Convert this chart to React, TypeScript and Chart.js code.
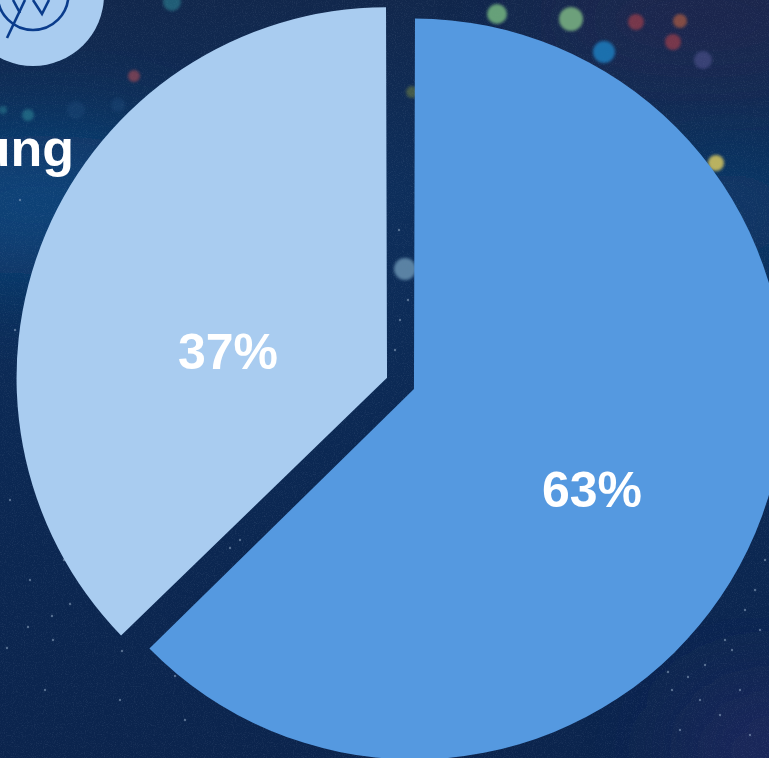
import React, { useEffect, useRef } from "react";
import { Chart, registerables } from "chart.js";

Chart.register(...registerables);

const categories = ["Segment A", "Segment B"];
const seriesValues = [62.7, 37.3];
const sliceColors = ["#5599E0", "#A9CCF0"];

// label anchors relative to each slice's apex
const labelShift = [
  [178, 101],
  [-159, -25],
];

const bokeh: [number, number, number, string, number][] = [
  [497, 14, 10, "#6fae7e", 0.9],
  [571, 19, 12, "#72a77e", 0.95],
  [604, 52, 11, "#1f78b8", 0.9],
  [636, 22, 8, "#a8404a", 0.65],
  [680, 21, 7, "#b9603f", 0.65],
  [673, 42, 8, "#a8404a", 0.65],
  [703, 60, 9, "#5a5a9a", 0.5],
  [716, 163, 8, "#d8c860", 0.85],
  [405, 269, 11, "#5f87a8", 0.95],
  [134, 76, 6, "#9a4a55", 0.7],
  [28, 115, 6, "#2f8a9a", 0.55],
  [3, 110, 4, "#2f8a9a", 0.45],
  [76, 110, 9, "#24507f", 0.35],
  [118, 105, 7, "#24507f", 0.35],
  [172, 2, 9, "#2f8a9a", 0.55],
  [412, 92, 6, "#7a8a40", 0.5],
];

const stars: [number, number][] = [
  [7, 648], [70, 604], [52, 616], [28, 627], [53, 640], [64, 560], [30, 580], [122, 651],
  [175, 676], [185, 720], [120, 700], [45, 690], [20, 200], [40, 260], [15, 330], [30, 420],
  [10, 500], [60, 530], [700, 700], [740, 690], [750, 735], [680, 730], [400, 320], [395, 350],
  [408, 300], [399, 230], [240, 540], [230, 548], [750, 540], [765, 560], [705, 665], [668, 672],
  [688, 677], [732, 650], [760, 630], [745, 610], [725, 640], [755, 590], [672, 690], [720, 715],
];

const labelsPlugin = {
  id: "sliceLabels",
  afterDatasetsDraw(chart: Chart) {
    const { ctx } = chart;
    const arcs = chart.getDatasetMeta(0).data as any[];
    ctx.save();
    ctx.font = 'bold 50px "Liberation Sans", Arial, sans-serif';
    ctx.fillStyle = "#ffffff";
    ctx.textAlign = "center";
    ctx.textBaseline = "middle";
    arcs.forEach((arc, i) => {
      const mid = (arc.startAngle + arc.endAngle) / 2;
      const off = arc.options.offset / 4;
      ctx.fillText(
        `${Math.round(seriesValues[i])}%`,
        arc.x + Math.cos(mid) * off + labelShift[i][0],
        arc.y + Math.sin(mid) * off + labelShift[i][1] + 3
      );
    });
    ctx.restore();
  },
};

export default function App() {
  const ref = useRef<HTMLCanvasElement>(null);
  useEffect(() => {
    const chart = new Chart(ref.current!, {
      type: "pie",
      data: {
        labels: categories,
        datasets: [
          {
            data: seriesValues,
            backgroundColor: sliceColors,
            borderWidth: 0,
            offset: [25.84, 90.96],
          },
        ],
      },
      options: {
        responsive: false,
        animation: false,
        radius: 364.04,
        layout: { padding: 0 },
        plugins: { legend: { display: false }, tooltip: { enabled: false } },
      } as any,
      plugins: [labelsPlugin],
    });
    return () => chart.destroy();
  }, []);

  return (
    <div
      style={{
        position: "fixed",
        left: 0,
        top: 0,
        width: 769,
        height: 758,
        overflow: "hidden",
        background: "#0C2852",
      }}
    >
      <svg width={769} height={758} style={{ position: "absolute", left: 0, top: 0 }}>
        <defs>
          <filter id="b1" x="-50%" y="-50%" width="200%" height="200%">
            <feGaussianBlur stdDeviation="1.4" />
          </filter>
          <filter id="b0" x="-100%" y="-100%" width="300%" height="300%">
            <feGaussianBlur stdDeviation="0.7" />
          </filter>
          <filter id="b2" x="-60%" y="-60%" width="220%" height="220%">
            <feGaussianBlur stdDeviation="50" />
          </filter>
          <filter id="grain" x="0" y="0" width="100%" height="100%">
            <feTurbulence type="fractalNoise" baseFrequency="0.9" numOctaves="2" seed="4" />
            <feColorMatrix
              type="matrix"
              values="0 0 0 0 0.62  0 0 0 0 0.72  0 0 0 0 0.85  0 0 0 1.6 -0.78"
            />
          </filter>
          <linearGradient id="bg" x1="0" y1="0" x2="0" y2="1">
            <stop offset="0" stopColor="#11274C" />
            <stop offset="0.25" stopColor="#0D2E5B" />
            <stop offset="0.6" stopColor="#0B2853" />
            <stop offset="1" stopColor="#0B244D" />
          </linearGradient>
        </defs>
        <rect width={769} height={758} fill="url(#bg)" />
        <ellipse cx={40} cy={205} rx={170} ry={70} fill="#0D4C84" opacity={0.8} filter="url(#b2)" />
        <ellipse cx={730} cy={215} rx={70} ry={50} fill="#0D4478" opacity={0.7} filter="url(#b2)" />
        <ellipse cx={700} cy={20} rx={170} ry={50} fill="#2A2850" opacity={0.6} filter="url(#b2)" />
        <ellipse cx={770} cy={750} rx={90} ry={60} fill="#2A2A68" opacity={0.7} filter="url(#b2)" />
        <rect width={769} height={758} filter="url(#grain)" opacity={0.15} />
        {bokeh.map(([x, y, r, c, o], i) => (
          <circle key={i} cx={x} cy={y} r={r} fill={c} opacity={o} filter="url(#b1)" />
        ))}
        {stars.map(([x, y], i) => (
          <circle key={i} cx={x} cy={y} r={1.2} fill="#9FB6CF" opacity={0.5} filter="url(#b0)" />
        ))}
        <circle cx={33} cy={-5} r={71} fill="#A9CCF0" />
        <g fill="none" stroke="#0A3C8C" strokeWidth={2.6}>
          <circle cx={33} cy={-5.4} r={35.4} />
          <polyline points="7,38 25,0" />
          <polyline points="13,0 20,13" />
          <polyline points="33,0 42,14 49,0" />
        </g>
      </svg>
      <div
        style={{
          position: "absolute",
          right: 769 - 74,
          top: 118,
          font: 'bold 52px/60px "Liberation Sans", Arial, sans-serif',
          color: "#fff",
          whiteSpace: "nowrap",
        }}
      >
        ung
      </div>
      <canvas
        ref={ref}
        width={816}
        height={773}
        style={{ position: "absolute", left: 0, top: 0, width: 816, height: 773 }}
      />
    </div>
  );
}
